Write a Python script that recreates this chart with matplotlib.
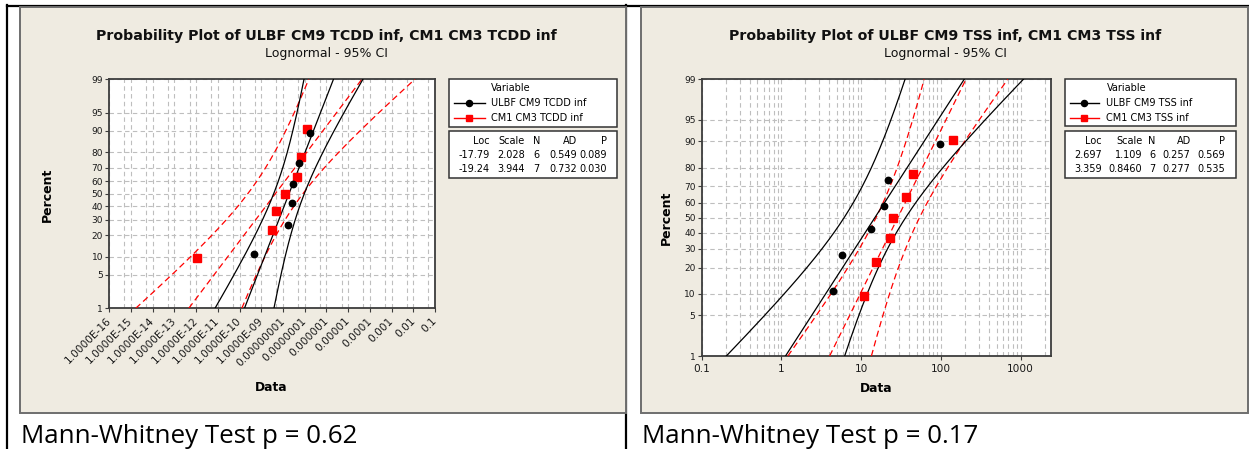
# -*- coding: utf-8 -*-
"""
Minitab 风格对数正态概率图（两组对比，95% 置信区间），输出 out.png
"""
from statistics import NormalDist

import numpy as np
import matplotlib

matplotlib.use("Agg")
import matplotlib.pyplot as plt
from matplotlib.patches import Rectangle
from matplotlib.ticker import NullLocator

W, H = 1249, 449

# ---------- 数据 ----------
pct_n6 = [10.9, 26.6, 42.2, 57.8, 73.4, 89.1]
pct_n7 = [9.46, 22.97, 36.49, 50.0, 63.51, 77.03, 90.54]

tcdd_cm9 = [4.4e-10, 1.79e-8, 2.54e-8, 2.92e-8, 5.5e-8, 1.77e-7]
tcdd_cm13 = [1.08e-12, 3.27e-9, 4.67e-9, 1.21e-8, 4.6e-8, 6.8e-8, 1.24e-7]
tss_cm9 = [4.4, 5.7, 13.3, 19.2, 21.7, 96.0]
tss_cm13 = [10.9, 15.2, 22.7, 24.8, 36.0, 44.0, 141.0]

series_tcdd = ["ULBF CM9 TCDD inf", "CM1 CM3 TCDD inf"]
series_tss = ["ULBF CM9 TSS inf", "CM1 CM3 TSS inf"]

# 统计表: Loc, Scale, N, AD, P
tcdd_loc = [-17.79, -19.24]
tcdd_scale = [2.028, 3.944]
tcdd_n = [6, 7]
tcdd_ad = [0.549, 0.732]
tcdd_p = [0.089, 0.030]

tss_loc = [2.697, 3.359]
tss_scale = [1.109, 0.8460]
tss_n = [6, 7]
tss_ad = [0.257, 0.277]
tss_p = [0.569, 0.535]

pct_ticks = [1, 5, 10, 20, 30, 40, 50, 60, 70, 80, 90, 95, 99]

tcdd_xticks = [1e-16, 1e-15, 1e-14, 1e-13, 1e-12, 1e-11, 1e-10, 1e-9,
               1e-8, 1e-7, 1e-6, 1e-5, 1e-4, 1e-3, 1e-2, 1e-1]
tcdd_xlabels = ["1.0000E-16", "1.0000E-15", "1.0000E-14", "1.0000E-13",
                "1.0000E-12", "1.0000E-11", "1.0000E-10", "1.0000E-09",
                "0.00000001", "0.0000001", "0.000001", "0.00001",
                "0.0001", "0.001", "0.01", "0.1"]
tss_xticks = [0.1, 1, 10, 100, 1000]
tss_xlabels = ["0.1", "1", "10", "100", "1000"]

mw_p = ["0.62", "0.17"]

# ---------- 样式 ----------
BEIGE = "#EFEBE1"
FRAME = "#3C3C3C"
GRID = "#BEBEBE"
RED = "#FF0000"
FONT = "DejaVu Sans"

_nd = NormalDist()
_ppf = np.vectorize(_nd.inv_cdf, otypes=[float])
_cdf = np.vectorize(_nd.cdf, otypes=[float])


def pct_to_z(p):
    p = np.clip(np.asarray(p, dtype=float), 1e-7, 100 - 1e-7)
    return _ppf(p / 100.0)


def z_to_pct(z):
    return _cdf(np.asarray(z, dtype=float)) * 100.0


def fit_lines(loc, scale, n):
    """拟合线及 95% 置信带（按百分位）"""
    z = np.linspace(float(pct_to_z(1)), float(pct_to_z(99)), 150)
    mid = loc + z * scale
    half = 1.96 * scale / np.sqrt(n) * np.sqrt(1 + z ** 2 / 2)
    return z_to_pct(z), np.exp(mid), np.exp(mid - half), np.exp(mid + half)


def px_axes(fig, x0, y0, x1, y1):
    return fig.add_axes([x0 / W, 1 - y1 / H, (x1 - x0) / W, (y1 - y0) / H])


def draw_panel(fig, bg, cfg):
    # 面板背景
    px0, py0, px1, py1 = cfg["panel"]
    bg.add_patch(Rectangle((px0, py0), px1 - px0, py1 - py0, facecolor=BEIGE,
                           edgecolor="#6E6E6E", lw=1.4, zorder=1))
    bg.text(cfg["title_x"], 36, cfg["title"], ha="center", va="center",
            fontsize=10.2, fontweight="bold", family=FONT, color="#111111")
    bg.text(cfg["title_x"], 54, "Lognormal - 95% CI", ha="center", va="center",
            fontsize=9.0, family=FONT, color="#111111")

    ax = px_axes(fig, *cfg["axes"])
    ax.set_zorder(2)
    ax.set_facecolor("white")
    ax.set_xscale("log")
    ax.set_yscale("function", functions=(pct_to_z, z_to_pct))

    for loc, scale, n, col, ls in [
        (cfg["loc"][1], cfg["scale"][1], cfg["n"][1], RED, (0, (5, 3))),
        (cfg["loc"][0], cfg["scale"][0], cfg["n"][0], "black", "-"),
    ]:
        p, mid, lo, hi = fit_lines(loc, scale, n)
        for curve in (mid, lo, hi):
            ax.plot(curve, p, color=col, ls=ls, lw=0.9, zorder=3)
    ax.plot(cfg["y2"], pct_n7, ls="none", marker="s", ms=5.2, color=RED, zorder=4)
    ax.plot(cfg["y1"], pct_n6, ls="none", marker="o", ms=4.6, color="black", zorder=5)

    ax.set_yticks(pct_ticks, [str(t) for t in pct_ticks])
    ax.yaxis.set_minor_locator(NullLocator())
    ax.set_xticks(cfg["xticks"], cfg["xlabels"])
    ax.set_xticks(cfg["xminor"], minor=True)
    ax.set_xlim(*cfg["xlim"])
    ax.set_ylim(1, 99)
    ax.tick_params(axis="x", which="minor", length=0)
    ax.tick_params(axis="both", which="major", direction="out", length=3,
                   width=0.8, color=FRAME)
    ax.tick_params(axis="y", labelsize=6.5, pad=1.5)
    ax.tick_params(axis="x", labelsize=7.6, pad=cfg["xpad"])
    for lab in ax.get_xticklabels() + ax.get_yticklabels():
        lab.set_family(FONT)
        lab.set_color("#1A1A1A")
    if cfg["rotate"]:
        for lab in ax.get_xticklabels():
            lab.set_rotation(45)
            lab.set_ha("right")
            lab.set_va("center")
            lab.set_rotation_mode("anchor")

    ax.grid(axis="y", which="major", color=GRID, ls=(0, (4, 3)), lw=0.8)
    ax.grid(axis="x", which="both", color=GRID, ls=(0, (4, 3)), lw=0.8)
    ax.set_axisbelow(True)
    for sp in ax.spines.values():
        sp.set_color(FRAME)
        sp.set_linewidth(1.3)

    ax.set_ylabel("Percent", fontsize=9, fontweight="bold", family=FONT)
    ax.set_xlabel("Data", fontsize=8.8, fontweight="bold", family=FONT)
    ax.yaxis.set_label_coords(*cfg["ylab"])
    ax.xaxis.set_label_coords(*cfg["xlab"])
    ax.yaxis.label.set_va("center")
    ax.xaxis.label.set_va("center")

    # 图例
    lx0, ly0, lx1, ly1 = cfg["legend"]
    bg.add_patch(Rectangle((lx0, ly0), lx1 - lx0, ly1 - ly0, facecolor="white",
                           edgecolor="#333333", lw=1.1, zorder=2))
    sx0, sy0, sx1, sy1 = cfg["stats"]
    bg.add_patch(Rectangle((sx0, sy0), sx1 - sx0, sy1 - sy0, facecolor="white",
                           edgecolor="#333333", lw=1.1, zorder=2))
    tx = cfg["leg_text_x"]
    l0, l1 = cfg["leg_line"]
    bg.text(tx, 88, "Variable", fontsize=7, family=FONT, va="center", zorder=3)
    for yy, name, col, mk, ms in [(103.3, cfg["names"][0], "black", "o", 4.4),
                                  (118.3, cfg["names"][1], RED, "s", 4.8)]:
        bg.plot([l0, l1], [yy, yy], color=col, lw=1.0, zorder=3)
        bg.plot([(l0 + l1) / 2], [yy], marker=mk, ms=ms, color=col, zorder=4)
        bg.text(tx, yy, name, fontsize=7, family=FONT, va="center", zorder=3)

    cols = cfg["stat_cols"]
    header = ["Loc", "Scale", "N", "AD", "P"]
    aligns = ["right", "right", "center", "right", "right"]
    rows = [header]
    for i in range(2):
        rows.append([f"{cfg['loc'][i]:#.4g}", f"{cfg['scale'][i]:#.4g}", str(cfg["n"][i]),
                     f"{cfg['ad'][i]:.3f}", f"{cfg['p'][i]:.3f}"])
    for yy, row in zip([140.7, 155.0, 169.3], rows):
        for x, txt, ha in zip(cols, row, aligns):
            bg.text(x, yy, txt, fontsize=7, family=FONT, ha=ha, va="center", zorder=3)
    return ax


fig = plt.figure(figsize=(W / 100, H / 100), dpi=100)
fig.patch.set_facecolor("white")
bg = fig.add_axes([0, 0, 1, 1])
bg.set_xlim(0, W)
bg.set_ylim(H, 0)
bg.axis("off")
bg.set_zorder(0)

# 表格边框
bg.plot([7, W], [5.8, 5.8], color="black", lw=1.6, zorder=0.5)
bg.plot([7, 7], [5, H], color="black", lw=1.6, zorder=0.5)
bg.plot([626, 626], [5, H], color="black", lw=1.6, zorder=0.5)

panels = [
    dict(panel=(20, 7, 626, 413), axes=(109.3, 79.3, 435, 308.3), title_x=326.5,
         title="Probability Plot of ULBF CM9 TCDD inf, CM1 CM3 TCDD inf",
         xlim=(1e-16, 1e-1), y1=tcdd_cm9, y2=tcdd_cm13,
         loc=tcdd_loc, scale=tcdd_scale, n=tcdd_n, ad=tcdd_ad, p=tcdd_p,
         xticks=tcdd_xticks, xlabels=tcdd_xlabels,
         xminor=[5 * t for t in tcdd_xticks[:-1]], rotate=True, xpad=5,
         ylab=(-0.191, 0.495), xlab=(0.496, -0.348),
         legend=(449, 79.3, 617, 126.7), stats=(449, 130.7, 617, 178),
         leg_text_x=491, leg_line=(454, 485), names=series_tcdd,
         stat_cols=[490, 525, 536.5, 576.7, 606.7], mw_x=21, mw=mw_p[0]),
    dict(panel=(641, 7, 1248, 413), axes=(701.7, 79.3, 1051, 356), title_x=945,
         title="Probability Plot of ULBF CM9 TSS inf, CM1 CM3 TSS inf",
         xlim=(0.1, 2400), y1=tss_cm9, y2=tss_cm13,
         loc=tss_loc, scale=tss_scale, n=tss_n, ad=tss_ad, p=tss_p,
         xticks=tss_xticks, xlabels=tss_xlabels,
         xminor=[m * t for t in tss_xticks for m in range(2, 10)], rotate=False, xpad=3,
         ylab=(-0.102, 0.499), xlab=(0.499, -0.116),
         legend=(1065, 79.3, 1236, 125.5), stats=(1065, 130.7, 1236, 178),
         leg_text_x=1106.5, leg_line=(1070, 1099), names=series_tss,
         stat_cols=[1102, 1142.5, 1152, 1190.7, 1225.5], mw_x=642, mw=mw_p[1]),
]

for cfg in panels:
    draw_panel(fig, bg, cfg)
    bg.text(cfg["mw_x"], 443, f"Mann-Whitney Test p = {cfg['mw']}", fontsize=18.6,
            family="Open Sans", ha="left", va="baseline", color="black")

fig.savefig("out.png", dpi=100, facecolor="white")
